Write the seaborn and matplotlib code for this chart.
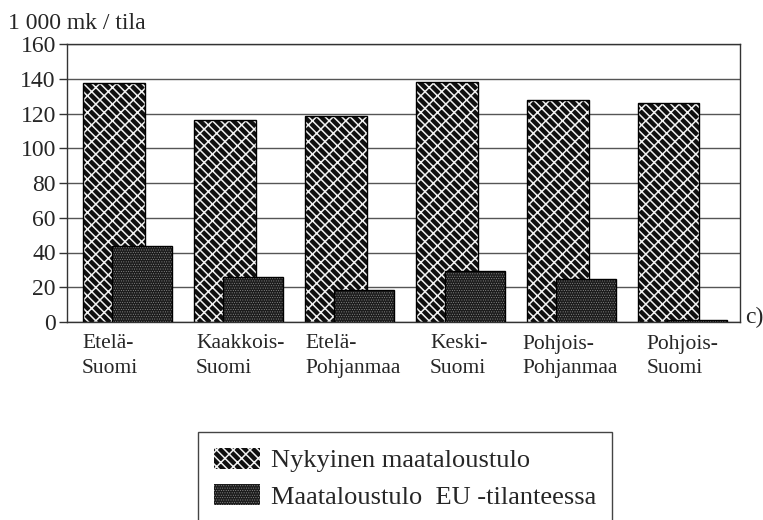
import matplotlib
matplotlib.use("Agg")
import matplotlib.pyplot as plt
from matplotlib.patches import Patch
import seaborn as sns
import pandas as pd

regions = ["Etelä-\nSuomi", "Kaakkois-\nSuomi", "Etelä-\nPohjanmaa",
           "Keski-\nSuomi", "Pohjois-\nPohjanmaa", "Pohjois-\nSuomi"]
series_names = ["Nykyinen maataloustulo", "Maataloustulo  EU -tilanteessa"]
nykyinen = [137.5, 116.5, 118.5, 138, 127.5, 126]
eu = [43.5, 26, 18.5, 29.5, 24.5, 1.2]
yticks = [0, 20, 40, 60, 80, 100, 120, 140, 160]
ylabel_text = "1 000 mk / tila"
corner_text = "c)"

df = pd.DataFrame({
    "region": regions * 2,
    "series": [series_names[0]] * len(regions) + [series_names[1]] * len(regions),
    "value": nykyinen + eu,
})

sns.set_theme(style="white")
plt.rcParams["font.family"] = ["Liberation Serif", "DejaVu Serif"]
plt.rcParams["hatch.linewidth"] = 1.1

fig = plt.figure(figsize=(7.63, 5.2), dpi=100)
ax = fig.add_axes([67 / 763, 1 - 322 / 520, (740 - 67) / 763, (322 - 44) / 520])

sns.barplot(data=df, x="region", y="value", hue="series", order=regions,
            hue_order=series_names, ax=ax, legend=False, saturation=1,
            palette=["#1c1c1c", "#262626"])

BS = "\\"
styles = [
    dict(face="#101010", hatch=BS * 4 + "//", hcol=(0.95, 0.95, 0.95, 1), hlw=1.1),
    dict(face="#1c1c1c", hatch="." * 7, hcol=(0.55, 0.55, 0.55, 1), hlw=0.4),
]


def style_patch(p, st, edge=True):
    p.set_facecolor(st["face"])
    p.set_edgecolor("black")
    p.set_linewidth(1.0 if edge else 0)
    p.set_hatch(st["hatch"])
    if hasattr(p, "set_hatchcolor"):
        p.set_hatchcolor(st["hcol"])
    else:
        p._hatch_color = st["hcol"]
    if hasattr(p, "set_hatch_linewidth"):
        p.set_hatch_linewidth(st["hlw"])
    else:
        p._hatch_linewidth = st["hlw"]


geom = [(-0.40, 0.555), (-0.135, 0.535)]
for k, cont in enumerate(ax.containers):
    for p in cont:
        idx = round(p.get_x() + p.get_width() / 2)
        off, w = geom[k]
        p.set_x(idx + off)
        p.set_width(w)
        style_patch(p, styles[k])
        p.set_zorder(2 + k)

ax.set_xlim(-0.545, 5.52)
ax.set_ylim(0, 160)
ax.set_yticks(yticks)
ax.set_yticklabels([str(v) for v in yticks], fontsize=17)
ax.yaxis.grid(True, color="#555555", linewidth=1.0)
ax.set_axisbelow(True)
ax.tick_params(axis="y", left=True, length=6, width=1, color="#333333", pad=2)
ax.tick_params(axis="x", bottom=False, length=0, pad=9)
# horizontal nudges of each category label (pixels), as in the original typesetting
label_nudge_px = [-1, 2, 0, 14, -5, 9]
ax.set_xticks([i - 0.40 + d / 111 for i, d in enumerate(label_nudge_px)])
ax.set_xticklabels(regions, fontsize=15.5, ha="left", linespacing=1.4)
ax.set_xlabel("")
ax.set_ylabel("")
for s in ax.spines.values():
    s.set_color("#333333")
    s.set_linewidth(1.0)

fig.text(8 / 763, 1 - 29 / 520, ylabel_text, fontsize=17, ha="left", va="baseline")
fig.text(745 / 763, 1 - 317 / 520, corner_text, fontsize=17, ha="left", va="center")

handles = []
for st in styles:
    h = Patch()
    style_patch(h, st, edge=False)
    handles.append(h)

leg = fig.legend(handles, series_names, loc="upper left",
                 bbox_to_anchor=(198 / 763, 1 - 432 / 520), fontsize=19,
                 frameon=True, fancybox=False, framealpha=1, edgecolor="#444444",
                 handlelength=1.75, handleheight=0.85, handletextpad=0.4,
                 borderpad=0.6, labelspacing=0.45, borderaxespad=0)
leg.get_frame().set_linewidth(1.0)
for lp, st in zip(leg.get_patches(), styles):
    style_patch(lp, st, edge=False)

fig.savefig("out.png", dpi=100)
